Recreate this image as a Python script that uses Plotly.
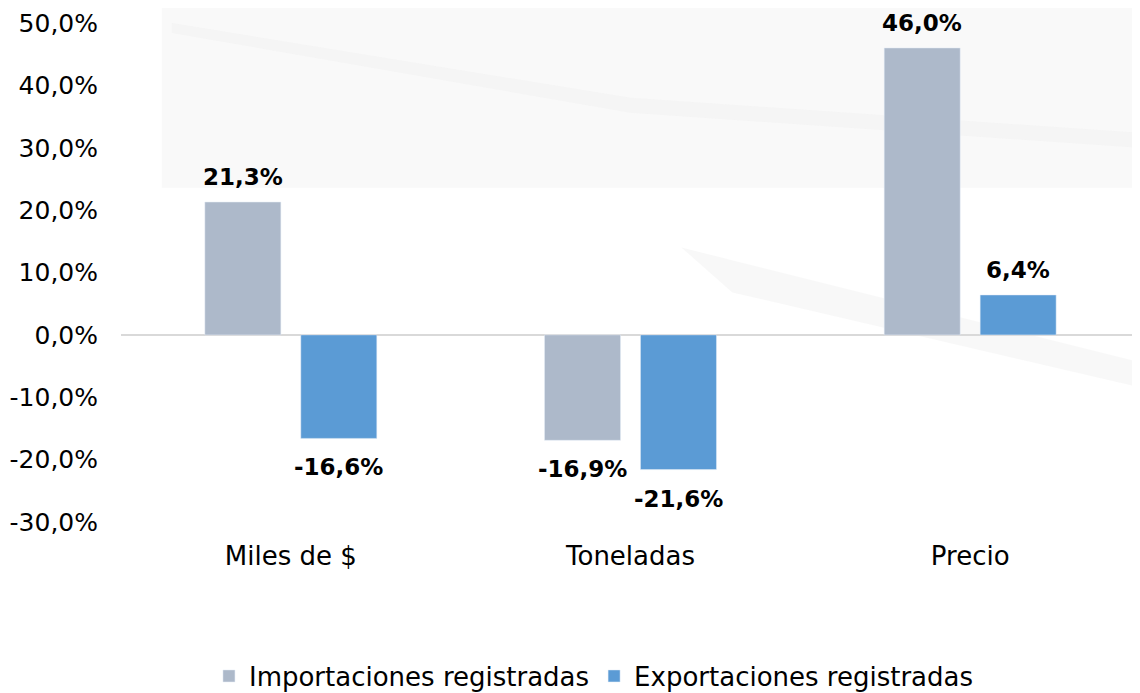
import plotly.graph_objects as go

categories = ["Miles de $", "Toneladas", "Precio"]
importaciones = [21.3, -16.9, 46.0]
exportaciones = [-16.6, -21.6, 6.4]
series_names = ["Importaciones registradas", "Exportaciones registradas"]
tick_values = [50, 40, 30, 20, 10, 0, -10, -20, -30]
tick_labels = ["50,0%", "40,0%", "30,0%", "20,0%", "10,0%", "0,0%", "-10,0%", "-20,0%", "-30,0%"]


def fmt(v):
    return f"{v:.1f}%".replace(".", ",")


FONT = "DejaVu Sans"
fig = go.Figure()
series = [(series_names[0], importaciones, "#ADB9CA", 0),
          (series_names[1], exportaciones, "#5B9BD5", 1)]
for name, vals, color, idx in series:
    fig.add_trace(go.Bar(
        x=categories, y=vals, name=name, marker_color=color, offsetgroup=str(idx),
    ))

# data labels as annotations positioned on the bar ends via the axes
slot = (1 - 0.435) / 2  # width of one bar slot in category units
for name, vals, color, idx in series:
    for ci, v in enumerate(vals):
        xoff = (idx - 0.5) * slot
        pos = v >= 0
        fig.add_annotation(
            x=ci + xoff, y=v, xref="x", yref="y", text="<b>" + fmt(v) + "</b>",
            showarrow=False, yanchor="bottom" if pos else "top",
            yshift=10 if pos else -14,
            font=dict(family=FONT, size=23, color="#000000"),
        )

# faint background decoration
fig.add_shape(type="rect", xref="paper", yref="paper", x0=0.04, x1=1.0, y0=0.67, y1=1.05,
              fillcolor="#f9f9f9", line_width=0, layer="below")
fig.add_shape(type="path", xref="paper", yref="paper",
              path="M 0.05 1.0 L 0.5 0.85 L 1.0 0.78 L 1.0 0.75 L 0.5 0.82 L 0.05 0.98 Z",
              fillcolor="#f1f1f1", line_width=0, layer="below", opacity=0.6)
fig.add_shape(type="path", xref="paper", yref="paper",
              path="M 0.55 0.55 L 1.0 0.32 L 1.0 0.27 L 0.6 0.46 Z",
              fillcolor="#f6f6f6", line_width=0, layer="below", opacity=0.8)

fig.update_layout(
    width=1140, height=693,
    margin=dict(l=113, r=8, t=15, b=179, autoexpand=False),
    paper_bgcolor="white", plot_bgcolor="rgba(0,0,0,0)",
    barmode="group", bargap=0.435, bargroupgap=0.208,
    font=dict(family=FONT, size=24, color="#000000"),
    showlegend=True,
    legend=dict(orientation="h", xref="container", x=0.514, xanchor="center",
                yref="container", y=0.036, yanchor="middle",
                font=dict(size=26, color="#000000"), itemwidth=30,
                bgcolor="rgba(0,0,0,0)", traceorder="normal"),
)
fig.update_xaxes(showgrid=False, showline=False, zeroline=False, ticks="", automargin=False,
                 tickfont=dict(size=26, color="#000000"), ticklabelstandoff=16)
fig.update_yaxes(range=[-30, 50], tickvals=tick_values, ticktext=tick_labels, automargin=False,
                 showgrid=False, zeroline=True, zerolinecolor="#d9d9d9", zerolinewidth=2,
                 showline=False, ticks="", ticklabelstandoff=22,
                 tickfont=dict(size=25, color="#000000"))

fig.write_html("out.html")
